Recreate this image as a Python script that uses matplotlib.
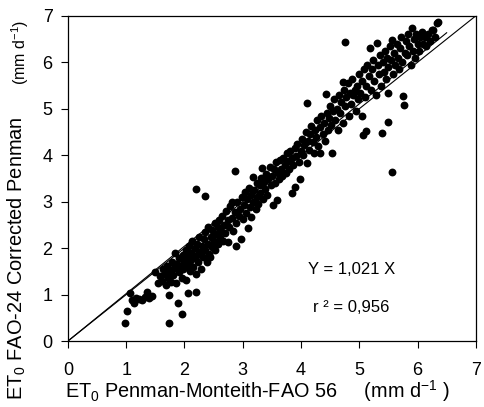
import numpy as np
import matplotlib
matplotlib.use("Agg")
import matplotlib.pyplot as plt

plt.rcParams['font.family'] = ['Liberation Sans', 'DejaVu Sans']
plt.rcParams['mathtext.fontset'] = 'custom'
plt.rcParams['mathtext.rm'] = 'Liberation Sans'
plt.rcParams['mathtext.it'] = 'Liberation Sans'

# points, (ET0 PM-FAO56, ET0 FAO-24 corrected Penman)
pts_low = [(0.98,0.39),(1.01,0.65),(1.06,1.03),(1.10,0.88),(1.13,0.82),(1.17,0.93),(1.22,0.90),
           (1.27,0.88),(1.32,0.95),(1.36,1.05),(1.40,0.92),(1.45,0.98),(1.49,1.48),(1.55,1.25),
           (1.58,1.40),(1.62,1.30),(1.63,1.55),(1.66,1.45),(1.68,1.20),(1.70,1.62),(1.72,1.35),
           (1.73,0.99),(1.73,0.39),(1.75,1.50),(1.77,1.28),(1.79,1.70),(1.80,1.42),(1.82,1.58),
           (1.84,1.89),(1.85,1.25),(1.87,1.66),(1.89,0.81),(1.90,1.48),(1.91,1.78),(1.93,1.60),
           (1.95,1.35),(1.96,0.58),(1.97,1.85),(1.98,1.55),(2.00,1.70),(2.02,1.31),(2.03,1.95),
           (2.06,1.03),(2.20,1.05)]
pts_2 = [(2.04,1.62),(2.06,1.80),(2.08,2.05),(2.09,1.50),(2.10,1.72),(2.12,1.90),(2.13,2.15),
         (2.15,1.60),(2.16,1.78),(2.18,2.00),(2.19,1.45),(2.20,3.27),(2.21,1.85),(2.22,2.10),
         (2.24,1.70),(2.25,2.25),(2.27,1.92),(2.28,1.55),(2.30,2.05),(2.31,1.80),(2.33,2.20),
         (2.35,3.12),(2.35,1.95),(2.36,2.35),(2.38,1.70),(2.40,2.10),(2.41,2.45),(2.43,1.88),
         (2.44,1.80),(2.45,2.25),(2.47,2.02),(2.48,2.40),(2.50,2.15),(2.52,1.95),(2.53,2.55),
         (2.55,2.30),(2.57,2.08),(2.58,2.45),(2.60,2.60),(2.61,2.22),(2.63,2.38),(2.65,2.70),
         (2.66,2.15),(2.68,2.50),(2.70,2.32),(2.72,2.80),(2.74,2.13),(2.75,2.60),(2.77,2.45),
         (2.79,2.90),(2.81,2.99),(2.82,2.65),(2.84,2.38),(2.86,3.66),(2.86,2.78),(2.88,2.04),
         (2.89,2.55),(2.91,3.00),(2.93,2.70),(2.95,2.85),(2.97,2.19),(2.98,3.10),(3.00,2.62)]
pts_3 = [(3.02,2.92),(3.04,3.20),(3.05,2.75),(3.07,3.05),(3.09,2.43),(3.10,3.30),(3.12,2.88),
         (3.14,3.15),(3.15,2.68),(3.17,3.53),(3.18,3.00),(3.20,3.25),(3.22,2.85),(3.24,3.40),
         (3.25,3.10),(3.27,2.95),(3.29,3.35),(3.30,3.18),(3.32,3.50),(3.33,3.72),(3.35,3.05),
         (3.37,3.42),(3.39,3.28),(3.40,3.60),(3.42,3.15),(3.44,3.48),(3.46,3.75),(3.48,3.35),
         (3.50,3.55),(3.52,2.92),(3.53,3.70),(3.55,3.40),(3.57,3.85),(3.58,3.03),(3.60,3.62),
         (3.62,3.48),(3.64,3.90),(3.66,3.70),(3.68,3.55),(3.70,3.95),(3.72,3.80),(3.74,3.62),
         (3.76,4.05),(3.78,3.88),(3.80,3.70),(3.82,4.10),(3.84,3.18),(3.85,3.95),(3.87,3.80),
         (3.89,3.31),(3.90,4.15),(3.92,3.98),(3.94,4.25),(3.96,3.85),(3.98,3.48),(4.00,4.10)]
pts_4 = [(4.02,4.35),(4.04,4.00),(4.06,4.22),(4.08,4.50),(4.10,3.83),(4.10,5.12),(4.12,4.30),
         (4.14,4.12),(4.16,4.45),(4.18,4.62),(4.20,4.28),(4.22,4.05),(4.24,4.55),(4.26,4.40),
         (4.28,4.75),(4.30,4.20),(4.32,4.04),(4.33,4.60),(4.35,4.85),(4.37,4.45),(4.39,4.70),
         (4.41,4.30),(4.43,5.31),(4.44,4.92),(4.46,4.55),(4.48,4.80),(4.50,5.05),(4.52,4.65),
         (4.53,4.04),(4.55,4.95),(4.57,5.20),(4.59,4.75),(4.61,5.00),(4.63,4.55),(4.65,5.30),
         (4.67,4.90),(4.69,5.15),(4.72,4.69),(4.72,5.57),(4.74,5.40),(4.75,6.43),(4.76,5.05),
         (4.78,5.25),(4.80,5.55),(4.82,4.85),(4.84,5.35),(4.86,5.10),(4.88,5.65),(4.90,5.30),
         (4.92,5.40),(4.94,4.95),(4.96,5.50),(4.98,5.20),(5.00,5.75)]
pts_5 = [(5.02,5.35),(5.04,4.84),(5.05,5.60),(5.06,4.43),(5.08,5.85),(5.10,5.25),(5.11,4.52),
         (5.12,5.50),(5.14,5.95),(5.16,5.70),(5.18,6.30),(5.20,5.40),(5.22,5.85),(5.24,6.05),
         (5.26,5.60),(5.28,5.30),(5.30,6.41),(5.32,5.95),(5.34,5.75),(5.36,6.15),(5.38,5.50),
         (5.39,4.47),(5.40,6.00),(5.42,5.80),(5.44,6.25),(5.46,5.65),(5.48,6.10),(5.49,5.33),
         (5.49,4.71),(5.50,5.90),(5.52,6.35),(5.54,6.05),(5.56,6.47),(5.56,3.63),(5.58,5.75),
         (5.60,6.20),(5.62,5.95),(5.64,6.40),(5.66,6.10),(5.68,5.85),(5.70,6.30),(5.72,6.55),
         (5.74,6.00),(5.75,5.27),(5.76,5.08),(5.78,6.20),(5.80,6.45),(5.82,6.15),(5.84,6.60),
         (5.86,6.35),(5.88,5.95),(5.90,6.73),(5.92,6.25),(5.94,6.50),(5.96,6.10),(5.98,6.60),
         (6.00,6.40),(6.02,6.25),(6.04,6.55),(6.07,6.65),(6.09,6.40),(6.12,6.55),(6.15,6.35),
         (6.18,6.60),(6.21,6.45),(6.24,6.70),(6.26,6.70),(6.30,6.55),(6.33,6.85),(6.35,6.86)]

slope = 1.021
fit_end = 6.5
ticks = [0, 1, 2, 3, 4, 5, 6, 7]

pts = np.array(pts_low + pts_2 + pts_3 + pts_4 + pts_5)
x = pts[:, 0]
y = pts[:, 1]

fig = plt.figure(figsize=(4.85, 4.07), dpi=100)
ax = fig.add_axes([0.140, 0.162, 0.841, 0.799])

ax.scatter(x, y, s=32, c='black', linewidths=0, zorder=3)
ax.plot([0, 7], [0, 7], color='black', lw=0.8, zorder=2)
ax.plot([0, fit_end], [0, slope * fit_end], color='black', lw=0.8, zorder=2)

ax.set_xlim(0, 7)
ax.set_ylim(0, 7)
ax.set_xticks(ticks)
ax.set_yticks(ticks)
ax.tick_params(direction='out', length=5, width=0.8, labelsize=13, pad=6)
ax.tick_params(axis='x', pad=10)
for s in ax.spines.values():
    s.set_linewidth(0.9)

ax.text(4.87, 1.55, 'Y = 1,021 X', fontsize=12, ha='center', va='center')
ax.text(4.87, 0.72, 'r ² = 0,956', fontsize=12, ha='center', va='center')

fig.text(65 / 485, 3 / 407, r'ET$_{0}$ Penman-Monteith-FAO 56     (mm d$^{-1}$ )',
         fontsize=14.3, ha='left', va='bottom')

fig.text(17 / 485, 7 / 407, r'ET$_{0}$ FAO-24 Corrected Penman', rotation=90,
         fontsize=14.4, ha='center', va='bottom')
fig.text(20 / 485, 322 / 407, r'(mm d$^{-1}$)', rotation=90,
         fontsize=11.5, ha='center', va='bottom')

fig.savefig('out.png', dpi=100)
